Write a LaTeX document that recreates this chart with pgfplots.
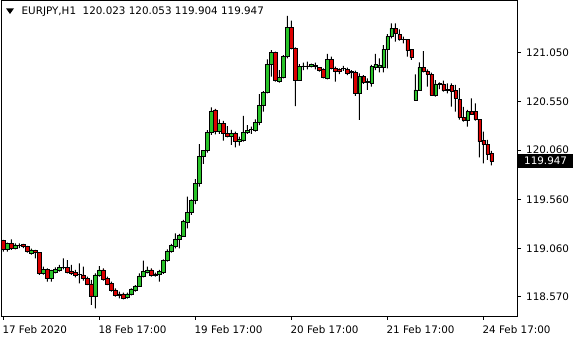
\documentclass[border=0pt]{standalone}
\usepackage{pgfplots}
\pgfplotsset{compat=1.18}
\usepackage{pgfplotstable}
\usepackage{fontspec}
\setmainfont{DejaVu Sans}
\definecolor{bullc}{RGB}{40,195,40}
\definecolor{bearc}{RGB}{220,0,0}
\pgfplotstableread{
x o h l c
0 119.140 119.147 119.028 119.052
1 119.052 119.120 119.028 119.113
2 119.113 119.153 119.045 119.059
3 119.059 119.113 119.052 119.096
4 119.092 119.113 119.065 119.094
5 119.099 119.106 119.065 119.079
6 119.079 119.086 119.018 119.032
7 119.011 119.059 118.998 119.045
8 119.042 119.045 118.960 119.018
9 119.021 119.021 118.791 118.808
10 118.808 118.876 118.794 118.849
11 118.849 118.859 118.723 118.757
12 118.754 118.842 118.723 118.835
13 118.821 118.869 118.808 118.849
14 118.838 118.893 118.825 118.872
15 118.866 118.960 118.849 118.868
16 118.872 118.943 118.808 118.821
17 118.832 118.893 118.791 118.805
18 118.815 118.842 118.767 118.788
19 118.798 118.910 118.706 118.796
20 118.791 118.876 118.733 118.754
21 118.757 118.774 118.689 118.700
22 118.700 118.740 118.486 118.578
23 118.578 118.808 118.452 118.791
24 118.788 118.882 118.774 118.842
25 118.842 118.859 118.733 118.747
26 118.757 118.774 118.689 118.700
27 118.706 118.723 118.622 118.632
28 118.639 118.655 118.571 118.584
29 118.598 118.622 118.554 118.584
30 118.598 118.611 118.544 118.550
31 118.564 118.611 118.550 118.598
32 118.598 118.655 118.584 118.649
33 118.639 118.689 118.622 118.679
34 118.679 118.808 118.672 118.781
35 118.774 118.937 118.767 118.825
36 118.815 118.876 118.808 118.842
37 118.842 118.859 118.774 118.788
38 118.801 118.815 118.774 118.788
39 118.798 118.842 118.723 118.825
40 118.815 118.950 118.801 118.943
41 118.937 119.052 118.927 119.035
42 119.028 119.106 119.018 119.089
43 119.079 119.214 119.062 119.157
44 119.153 119.208 119.062 119.191
45 119.188 119.350 119.181 119.333
46 119.323 119.587 119.265 119.428
47 119.428 119.560 119.401 119.546
48 119.546 119.766 119.512 119.722
49 119.722 120.122 119.688 120.000
50 120.000 120.061 119.919 120.061
51 120.054 120.264 120.034 120.241
52 120.241 120.495 120.214 120.458
53 120.468 120.478 120.220 120.247
54 120.247 120.373 120.224 120.332
55 120.332 120.356 120.156 120.231
56 120.231 120.305 120.190 120.197
57 120.197 120.265 120.112 120.231
58 120.231 120.248 120.088 120.146
59 120.146 120.197 120.105 120.170
60 120.163 120.407 120.146 120.241
61 120.237 120.315 120.224 120.264
62 120.269 120.298 120.224 120.271
63 120.264 120.373 120.247 120.342
64 120.339 120.630 120.315 120.518
65 120.512 120.660 120.450 120.647
66 120.647 120.982 120.637 120.932
67 120.932 121.077 120.806 121.054
68 121.054 121.060 120.755 120.766
69 120.762 120.874 120.745 120.800
70 120.800 121.026 120.789 121.016
71 121.016 121.423 120.993 121.308
72 121.308 121.375 121.084 121.094
73 121.094 121.104 120.508 120.772
74 120.772 120.935 120.766 120.908
75 120.913 120.949 120.874 120.915
76 120.915 120.959 120.881 120.913
77 120.908 120.939 120.901 120.935
78 120.918 120.949 120.881 120.915
79 120.901 120.901 120.857 120.874
80 120.884 120.891 120.789 120.796
81 120.789 121.037 120.779 120.982
82 120.982 121.009 120.881 120.891
83 120.891 120.908 120.755 120.857
84 120.881 120.891 120.833 120.864
85 120.889 120.915 120.864 120.891
86 120.884 120.898 120.823 120.840
87 120.855 120.874 120.789 120.857
88 120.847 120.867 120.610 120.637
89 120.637 120.840 120.366 120.813
90 120.813 120.823 120.732 120.745
91 120.762 120.789 120.671 120.745
92 120.738 120.925 120.705 120.908
93 120.901 121.037 120.874 120.932
94 120.901 120.993 120.850 120.925
95 120.901 121.128 120.850 121.084
96 121.084 121.240 120.891 121.213
97 121.213 121.348 121.196 121.297
98 121.297 121.348 121.162 121.247
99 121.240 121.287 121.172 121.186
100 121.188 121.213 121.145 121.186
101 121.186 121.186 121.009 121.071
102 121.084 121.084 120.976 121.003
103 120.569 120.830 120.562 120.671
104 120.671 120.952 120.664 120.901
105 120.901 121.067 120.850 120.857
106 120.864 120.881 120.705 120.830
107 120.833 120.847 120.610 120.620
108 120.620 120.772 120.603 120.732
109 120.734 120.749 120.681 120.732
110 120.732 120.766 120.654 120.664
111 120.681 120.738 120.637 120.664
112 120.715 120.739 120.502 120.661
113 120.664 120.722 120.451 120.586
114 120.576 120.690 120.370 120.393
115 120.393 120.500 120.349 120.366
116 120.366 120.468 120.298 120.451
117 120.451 120.586 120.417 120.424
118 120.451 120.535 120.359 120.373
119 120.373 120.373 119.987 120.146
120 120.156 120.248 119.926 120.122
121 120.122 120.163 119.960 120.020
122 120.023 120.053 119.904 119.947
}\ohlc
\newcommand{\lbl}{\fontsize{10.4}{12}\selectfont}
\begin{document}
\begin{tikzpicture}
\path[use as bounding box] (0,0) rectangle (580bp,340bp);
\begin{axis}[
  at={(1.5bp,24bp)}, anchor=south west, scale only axis,
  width=515.5bp, height=315.5bp,
  xmin=-0.45, xmax=128.4, ymin=118.374, ymax=121.5805,
  ybar stacked,
  axis line style={black, line width=0.8bp},
  tick align=outside, major tick length=4bp,
  tick style={black, line width=0.8bp},
  xtick pos=bottom, ytick pos=right,
  xtick={0,24,48,72,96,120},
  xticklabels={17 Feb 2020,18 Feb 17:00,19 Feb 17:00,20 Feb 17:00,21 Feb 17:00,24 Feb 17:00},
  ytick={118.57,119.06,119.56,120.06,120.55,121.05},
  yticklabels={118.570,119.060,119.560,120.060,120.550,121.050},
  xticklabel style={anchor=north west, inner sep=0pt, font=\lbl, xshift=-1bp, yshift=-5bp},
  yticklabel style={anchor=west, inner sep=0pt, font=\lbl, xshift=5bp},
]
\addplot[draw=none, fill=none, forget plot, bar width=1bp] table[x=x, y=l] {\ohlc};
\addplot[draw=none, fill=black, forget plot, bar width=1bp] table[x=x, y expr={max(min(\thisrow{o},\thisrow{c})-\thisrow{l},0)}] {\ohlc};
\addplot[draw=black, fill=bullc, line width=0.65bp, forget plot, bar width=3.1bp] table[x=x, y expr={max(\thisrow{c}-\thisrow{o},0)}] {\ohlc};
\addplot[draw=black, fill=bearc, line width=0.65bp, forget plot, bar width=3.1bp] table[x=x, y expr={max(\thisrow{o}-\thisrow{c},0)}] {\ohlc};
\addplot[draw=none, fill=black, forget plot, bar width=1bp] table[x=x, y expr={max(\thisrow{h}-max(\thisrow{o},\thisrow{c}),0)}] {\ohlc};
\end{axis}
\fill[black] (6bp,331.7bp) -- (14bp,331.7bp) -- (10bp,326bp) -- cycle;
\node[anchor=west, inner sep=0pt, font=\lbl] at (21.5bp,328.5bp) {EURJPY,H1\ \ 120.023 120.053 119.904 119.947};
\fill[black] (518.3bp,172.3bp) rectangle (573.3bp,186bp);
\node[anchor=west, inner sep=0pt, font=\lbl, text=white] at (524bp,179.2bp) {119.947};
\end{tikzpicture}
\end{document}
